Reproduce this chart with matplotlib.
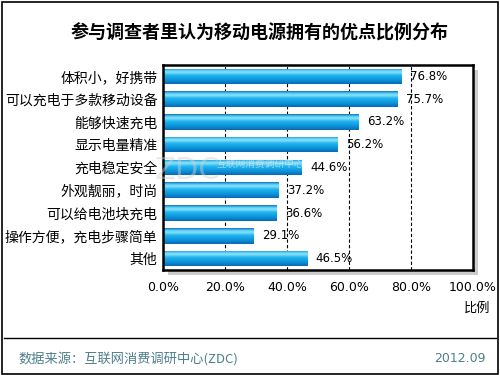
import matplotlib
matplotlib.use("Agg")
import matplotlib.pyplot as plt
import numpy as np
from matplotlib.colors import LinearSegmentedColormap
from matplotlib.patches import Rectangle
from matplotlib.lines import Line2D

plt.rcParams['font.family'] = ['Noto Sans CJK SC', 'DejaVu Sans']

categories = ["体积小，好携带", "可以充电于多款移动设备", "能够快速充电", "显示电量精准",
              "充电稳定安全", "外观靓丽，时尚", "可以给电池块充电", "操作方便，充电步骤简单", "其他"]
values = [76.8, 75.7, 63.2, 56.2, 44.6, 37.2, 36.6, 29.1, 46.5]
xticks = [0, 20, 40, 60, 80, 100]
xticklabels = ["0.0%", "20.0%", "40.0%", "60.0%", "80.0%", "100.0%"]

title = "参与调查者里认为移动电源拥有的优点比例分布"
source = "数据来源：互联网消费调研中心(ZDC)"
date = "2012.09"

fig = plt.figure(figsize=(5, 3.75), dpi=100)
fig.patch.set_facecolor('white')

# outer frame
fig.add_artist(Rectangle((0.004, 0.004), 0.992, 0.992, transform=fig.transFigure,
                         fill=False, edgecolor='black', linewidth=1.2))

L, B, W, H = 0.326, 0.28, 0.62, 0.547
# shadow
fig.add_artist(Rectangle((L + 0.009, B - 0.013), W, H, transform=fig.transFigure,
                         facecolor='#cccccc', edgecolor='none', zorder=0))
ax = fig.add_axes([L, B, W, H])
ax.set_facecolor('white')

n = len(categories)
y = np.arange(n)

for gx in [20, 40, 60, 80]:
    ax.axvline(gx, color='black', linestyle=(0, (3, 2)), linewidth=0.8, zorder=1)

cmap = LinearSegmentedColormap.from_list('cyl', [
    (0.0, '#1670b8'), (0.12, '#4cc6f2'), (0.25, '#8ae4fb'), (0.45, '#22b4ee'),
    (0.75, '#0c94dc'), (1.0, '#0868b4')])
grad = np.linspace(0, 1, 64).reshape(-1, 1)
bh = 0.68
bars = ax.barh(y, values, height=bh, facecolor='none', edgecolor='none', zorder=2)
for rect, v, yi in zip(bars, values, y):
    im = ax.imshow(grad, cmap=cmap, aspect='auto',
                   extent=[0, v, yi + bh / 2, yi - bh / 2], zorder=2, interpolation='bilinear')
    im.set_clip_path(rect)
    ax.text(v + 2.8, yi, f"{v:.1f}%", va='center', ha='left', fontsize=8.5,
            family=['DejaVu Sans'], color='black', zorder=4)
ax.set_xlim(0, 100)
ax.set_ylim(n - 0.5, -0.5)

ax.set_yticks(y)
ax.set_yticklabels(categories, fontsize=10)
ax.set_xticks(xticks)
ax.set_xticklabels(xticklabels, fontsize=9, family=['DejaVu Sans'])
ax.tick_params(axis='x', length=0, pad=8)
ax.tick_params(axis='y', length=3, direction='in', pad=4)
for s in ax.spines.values():
    s.set_linewidth(1.8)
    s.set_color('black')

# faint watermark
fig.text(0.375, 0.545, "ZDC", fontsize=22, color='#d0d0d0', alpha=0.45,
         family=['DejaVu Sans'], ha='center', va='center', zorder=5)
fig.text(0.52, 0.562, "互联网消费调研中心", fontsize=7, color='#eeeeee', alpha=0.6,
         ha='center', va='center', zorder=5)

fig.text(0.52, 0.913, title, fontsize=13, fontweight='bold', ha='center', va='center')
fig.text(0.98, 0.178, "比例", fontsize=9.5, ha='right', va='center')
fig.add_artist(Line2D([0.008, 0.992], [0.099, 0.099], transform=fig.transFigure,
                      color='black', linewidth=1.0))
fig.text(0.036, 0.045, source, fontsize=9.5, color='#4d7f8c', ha='left', va='center')
fig.text(0.972, 0.045, date, fontsize=9, color='#4d7f8c', ha='right', va='center',
         family=['DejaVu Sans'])

fig.savefig('out.png', dpi=100)
